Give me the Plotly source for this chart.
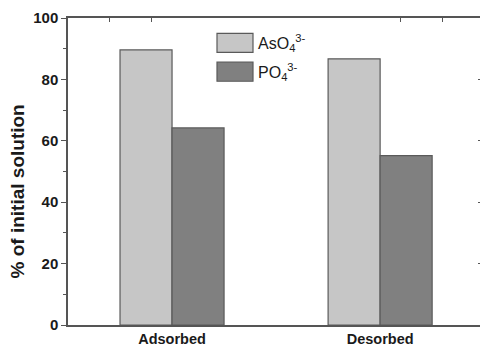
import plotly.graph_objects as go

categories = ["Adsorbed", "Desorbed"]
aso4 = [89.6, 86.7]
po4 = [64.2, 55.2]
series_names = ["AsO<sub>4</sub><sup>3-</sup>", "PO<sub>4</sub><sup>3-</sup>"]
y_ticks = [0, 20, 40, 60, 80, 100]
y_title = "% of initial solution"

light = "#c6c6c6"
dark = "#808080"
edge = "#5a5a5a"
axis_col = "#555555"
font = "Liberation Sans, Arial, sans-serif"

fig = go.Figure()
fig.add_trace(go.Bar(x=categories, y=aso4, name=series_names[0],
                     marker=dict(color=light, line=dict(color=edge, width=1.2))))
fig.add_trace(go.Bar(x=categories, y=po4, name=series_names[1],
                     marker=dict(color=dark, line=dict(color=edge, width=1.2))))
fig.add_trace(go.Scatter(x=[None], y=[None], yaxis="y2", showlegend=False))
fig.add_trace(go.Scatter(x=[None], y=[None], xaxis="x2", showlegend=False))

fig.update_layout(
    width=480, height=347,
    margin=dict(l=68, r=0, t=18, b=20),
    plot_bgcolor="white", paper_bgcolor="white",
    barmode="group", bargap=0.5, bargroupgap=0,
    showlegend=False,
    font=dict(family=font, color="#1a1a1a"),
    xaxis=dict(range=[-0.5, 1.48], showline=True, linecolor=axis_col, linewidth=1.5,
               ticks="", tickfont=dict(size=14.5, family=font, weight="bold"),
               showgrid=False, zeroline=False),
    yaxis=dict(range=[0, 100], tickvals=y_ticks, showline=True, linecolor=axis_col,
               linewidth=1.5, ticks="outside", ticklen=5, tickwidth=1.2, tickcolor=axis_col,
               minor=dict(ticks="outside", ticklen=3, tickwidth=1, tickcolor=axis_col, dtick=10),
               tickfont=dict(size=15, family=font, weight="bold"),
               showgrid=False, zeroline=False),
    yaxis2=dict(range=[0, 100], overlaying="y", side="right", tickvals=[20, 40, 60, 80],
                showticklabels=False, ticks="inside", ticklen=2, tickcolor=axis_col,
                showline=False, showgrid=False, zeroline=False),
    xaxis2=dict(range=[-0.5, 1.48], overlaying="x", side="top", showline=True,
                linecolor=axis_col, linewidth=1.5, ticks="inside", ticklen=4,
                tickcolor=axis_col, tickvals=[-0.3, -0.1, 1.1, 1.3],
                showticklabels=False, showgrid=False, zeroline=False, anchor="y"),
)

# y-axis title as annotation (slightly below plot centre, as in the reference)
fig.add_annotation(xref="paper", yref="paper", x=-51 / 412, y=0.435, text=y_title,
                   textangle=-90, showarrow=False, xanchor="center", yanchor="middle",
                   font=dict(size=19, family=font, weight="bold", color="#1a1a1a"))

# custom legend
legend_items = [(series_names[0], light), (series_names[1], dark)]
for i, (label, col) in enumerate(legend_items):
    y0 = 0.95 - i * 0.094
    fig.add_shape(type="rect", xref="paper", yref="paper",
                  x0=(217 - 68) / 412, x1=(253 - 68) / 412,
                  y0=y0 - 0.062, y1=y0,
                  fillcolor=col, line=dict(color=edge, width=1.2))
    fig.add_annotation(xref="paper", yref="paper", x=(256 - 68) / 412, y=y0 - 0.031,
                       text=label, showarrow=False, xanchor="left", yanchor="middle",
                       font=dict(size=16, family=font, color="#1a1a1a"))

fig.write_html("out.html")
